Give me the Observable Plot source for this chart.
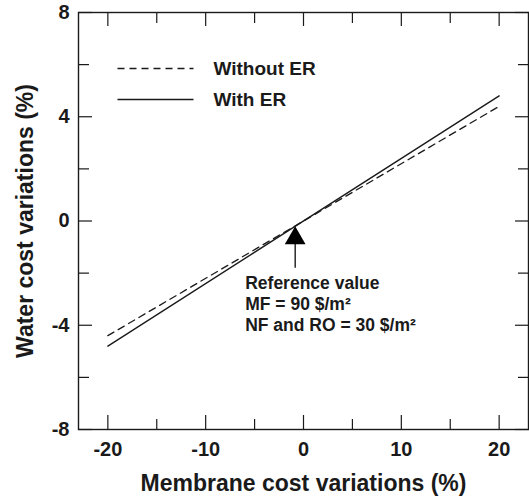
<!DOCTYPE html>
<html><head><meta charset="utf-8">
<script src="https://cdn.jsdelivr.net/npm/d3@7"></script>
<script src="https://cdn.jsdelivr.net/npm/@observablehq/plot@0.6"></script>
<style>body{margin:0;background:#fff} svg{display:block}</style>
</head><body><div id="chart"></div>
<script>
// ---- data ----
const membraneCost = [-20, 20];             // x (%)
const waterWithoutER = [-4.4, 4.4];          // dashed series (%)
const waterWithER = [-4.8, 4.8];             // solid series (%)
const seriesNames = ["Without ER", "With ER"];
const xTicksMajor = [-20, -10, 0, 10, 20];
const xTicksMinor = [-15, -5, 5, 15];
const yTicksMajor = [-8, -4, 0, 4, 8];
const yTicksMinor = [-6, -2, 2, 6];
const referencePoint = [{x: -0.85, y: -0.2}];
const annotationLines = ["Reference value", "MF = 90 $/m²", "NF and RO = 30 $/m²"];
const xLabel = "Membrane cost variations (%)";
const yLabel = "Water cost variations (%)";

// ---- layout ----
const W = 529, H = 498;
const mL = 78, mR = 1, mT = 12, mB = 69;
const xDom = [-23, 23], yDom = [-8, 8];
const pxX = (W - mL - mR) / (xDom[1] - xDom[0]);
const pxY = (H - mT - mB) / (yDom[1] - yDom[0]);
const font = "'Liberation Sans', Arial, Helvetica, sans-serif";
const ink = "#1a1a1a";

const rows = (ys, name) => membraneCost.map((x, i) => ({x, y: ys[i], series: name}));
const dashed = rows(waterWithoutER, seriesNames[0]);
const solid = rows(waterWithER, seriesNames[1]);

// legend placed in the upper-left of the frame (pixel offsets converted to data)
const legX1 = xDom[0] + 39 / pxX, legX2 = xDom[0] + 115 / pxX, legTX = xDom[0] + 135 / pxX;
const legend = seriesNames.map((name, i) => ({
  name, y: yDom[1] - (56 + i * 31) / pxY
}));

const ref = referencePoint[0];
const annoX = ref.x - 50 / pxX;
const annoY = ref.y - 48 / pxY;

const plot = Plot.plot({
  width: W, height: H,
  marginLeft: mL, marginRight: mR, marginTop: mT, marginBottom: mB,
  x: {domain: xDom, label: null},
  y: {domain: yDom, label: null},
  style: {fontFamily: font, color: ink, background: "#fff"},
  marks: [
    Plot.frame({stroke: ink, strokeWidth: 1.4}),
    // inward ticks on all four sides
    Plot.axisX(xTicksMajor, {anchor: "bottom", tickSize: -14, fill: "none", stroke: ink, strokeWidth: 1.2}),
    Plot.axisX(xTicksMinor, {anchor: "bottom", tickSize: -10, fill: "none", stroke: ink, strokeWidth: 1.2}),
    Plot.axisX(xTicksMajor, {anchor: "top", tickSize: -13, fill: "none", stroke: ink, strokeWidth: 1.2}),
    Plot.axisX(xTicksMinor, {anchor: "top", tickSize: -10, fill: "none", stroke: ink, strokeWidth: 1.2}),
    Plot.axisY(yTicksMajor, {anchor: "left", tickSize: -14, fill: "none", stroke: ink, strokeWidth: 1.2}),
    Plot.axisY(yTicksMinor, {anchor: "left", tickSize: -11, fill: "none", stroke: ink, strokeWidth: 1.2}),
    Plot.axisY(yTicksMajor, {anchor: "right", tickSize: -14, fill: "none", stroke: ink, strokeWidth: 1.2}),
    Plot.axisY(yTicksMinor, {anchor: "right", tickSize: -11, fill: "none", stroke: ink, strokeWidth: 1.2}),
    // tick labels
    Plot.axisX(xTicksMajor, {anchor: "bottom", tickSize: 0, tickPadding: 12, label: null, fontSize: 20, fontWeight: "bold", fill: ink, tickFormat: d => String(d).replace("−", "-")}),
    Plot.axisY(yTicksMajor, {anchor: "left", tickSize: 0, tickPadding: 9, label: null, fontSize: 20, fontWeight: "bold", fill: ink, tickFormat: d => String(d).replace("−", "-")}),
    // axis titles
    Plot.text([xLabel], {text: d => d, frameAnchor: "bottom", dy: 54, textAnchor: "middle", lineAnchor: "middle", fontSize: 23, fontWeight: "bold", fill: ink}),
    Plot.text([yLabel], {text: d => d, frameAnchor: "left", dx: -53, rotate: -90, textAnchor: "middle", lineAnchor: "middle", fontSize: 23, fontWeight: "bold", fill: ink}),
    // series
    Plot.line(dashed, {x: "x", y: "y", stroke: ink, strokeWidth: 1.3, strokeDasharray: "7,5"}),
    Plot.line(solid, {x: "x", y: "y", stroke: ink, strokeWidth: 1.4}),
    // legend
    Plot.link(legend, {x1: () => legX1, x2: () => legX2, y1: "y", y2: "y", stroke: ink, strokeWidth: 1.3,
      filter: d => d.name === seriesNames[0], strokeDasharray: "7,5"}),
    Plot.link(legend, {x1: () => legX1, x2: () => legX2, y1: "y", y2: "y", stroke: ink, strokeWidth: 1.4,
      filter: d => d.name === seriesNames[1]}),
    Plot.text(legend, {x: () => legTX, y: "y", text: "name", textAnchor: "start", lineAnchor: "middle", fontSize: 19, fontWeight: "bold", fill: ink}),
    // reference arrow
    Plot.ruleX(referencePoint, {x: "x", y1: d => d.y - 18 / pxY, y2: d => d.y - 42 / pxY, stroke: ink, strokeWidth: 1.4}),
    Plot.dot(referencePoint, {x: "x", y: d => d.y - 12 / pxY, symbol: "triangle", r: 7.7, fill: "#000", stroke: "none"}),
    // annotation
    Plot.text([annotationLines.join("\n")], {text: d => d, x: () => annoX, y: () => annoY, textAnchor: "start", lineAnchor: "top", lineHeight: 1.2, fontSize: 17.5, fontWeight: "bold", fill: ink})
  ]
});
document.getElementById("chart").appendChild(plot);
</script>
</body></html>
